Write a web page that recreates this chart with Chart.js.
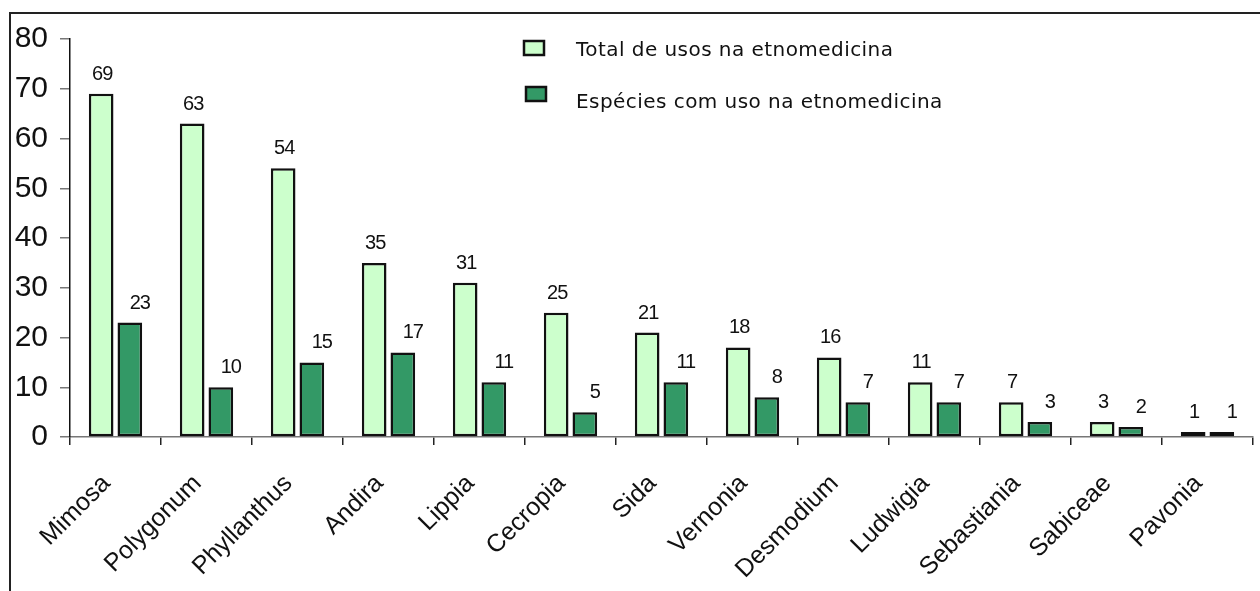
<!DOCTYPE html>
<html>
<head>
<meta charset="utf-8">
<script src="https://cdn.jsdelivr.net/npm/chart.js@4.4.0/dist/chart.umd.min.js"></script>
<style>
  html, body { margin: 0; padding: 0; background: #fff; }
  #wrap { position: relative; width: 1260px; height: 591px; overflow: hidden; }
  #frame { position: absolute; left: 9px; top: 12px; width: 1300px; height: 700px;
           border-top: 2px solid #222; border-left: 2px solid #222; }
  #chart { position: absolute; left: 0; top: 0; }
</style>
</head>
<body>
<div id="wrap">
  <div id="frame"></div>
  <canvas id="chart" width="1260" height="591"></canvas>
</div>
<script>
// gêneros e número de usos
const generos = ['Mimosa', 'Polygonum', 'Phyllanthus', 'Andira', 'Lippia', 'Cecropia', 'Sida',
                 'Vernonia', 'Desmodium', 'Ludwigia', 'Sebastiania', 'Sabiceae', 'Pavonia'];
const totalUsos = [69, 63, 54, 35, 31, 25, 21, 18, 16, 11, 7, 3, 1];
const especiesUso = [23, 10, 15, 17, 11, 5, 11, 8, 7, 7, 3, 2, 1];
const nomesSeries = ['Total de usos na etnomedicina', 'Espécies com uso na etnomedicina'];
const eixoY = { min: 0, max: 80, passo: 10 };

const corClara = '#ccffcc';
const corEscura = '#339966';
const fonteArial = 'Arial, "Liberation Sans", sans-serif';

// números em cima das barras (a segunda série fica um pouco à direita)
const rotulosValores = {
    id: 'rotulosValores',
    afterDatasetsDraw(chart) {
        const ctx = chart.ctx;
        ctx.save();
        ctx.font = '20px ' + fonteArial;
        ctx.letterSpacing = '-1px';
        ctx.fillStyle = '#111';
        ctx.textAlign = 'center';
        ctx.textBaseline = 'alphabetic';
        chart.data.datasets.forEach((ds, i) => {
            const dx = i === 0 ? 1 : 10;
            chart.getDatasetMeta(i).data.forEach((bar, j) => {
                ctx.fillText(String(ds.data[j]), bar.x + dx, bar.y - 14);
            });
        });
        ctx.restore();
    }
};

// legenda desenhada à mão dentro da área do gráfico
const legenda = {
    id: 'legenda',
    afterDraw(chart) {
        const ctx = chart.ctx;
        const itens = [
            { cor: corClara, qx: 524, qy: 41, ty: 56 },
            { cor: corEscura, qx: 526, qy: 87, ty: 108 }
        ];
        ctx.save();
        ctx.font = '20px "DejaVu Sans", Verdana, sans-serif';
        ctx.letterSpacing = '0.45px';
        ctx.textBaseline = 'alphabetic';
        itens.forEach((it, i) => {
            ctx.fillStyle = it.cor;
            ctx.fillRect(it.qx, it.qy, 20, 14);
            ctx.lineWidth = 2.5;
            ctx.strokeStyle = '#111';
            ctx.strokeRect(it.qx, it.qy, 20, 14);
            ctx.fillStyle = '#111';
            ctx.fillText(nomesSeries[i], 576, it.ty);
        });
        ctx.restore();
    }
};

new Chart(document.getElementById('chart'), {
    type: 'bar',
    data: {
        labels: generos,
        datasets: [
            {
                label: nomesSeries[0],
                data: totalUsos,
                backgroundColor: corClara,
                borderColor: '#111',
                borderWidth: 2.5,
                borderSkipped: false,
                categoryPercentage: 0.63,
                barPercentage: 0.86
            },
            {
                label: nomesSeries[1],
                data: especiesUso,
                backgroundColor: corEscura,
                borderColor: '#111',
                borderWidth: 2.5,
                borderSkipped: false,
                categoryPercentage: 0.63,
                barPercentage: 0.86
            }
        ]
    },
    options: {
        responsive: false,
        animation: false,
        layout: { padding: { left: 0, top: 39, right: 7, bottom: 0 } },
        plugins: { legend: { display: false }, tooltip: { enabled: false } },
        scales: {
            x: {
                afterFit: s => { s.height = 154; },
                grid: { offset: true, drawOnChartArea: false, tickLength: 8, color: '#222', lineWidth: 1.5 },
                border: { color: '#777', width: 1.5 },
                ticks: {
                    autoSkip: false,
                    maxRotation: 45,
                    minRotation: 45,
                    padding: 24,
                    labelOffset: -9,
                    color: '#111',
                    font: { family: fonteArial, size: 25 }
                }
            },
            y: {
                min: eixoY.min,
                max: eixoY.max,
                afterFit: s => { s.width = 70; },
                grid: { drawOnChartArea: false, tickLength: 10, color: '#777', lineWidth: 1.5 },
                border: { color: '#111', width: 1.5 },
                ticks: {
                    stepSize: eixoY.passo,
                    padding: 12,
                    color: '#111',
                    font: { family: fonteArial, size: 30 }
                }
            }
        }
    },
    plugins: [rotulosValores, legenda]
});
</script>
</body>
</html>
